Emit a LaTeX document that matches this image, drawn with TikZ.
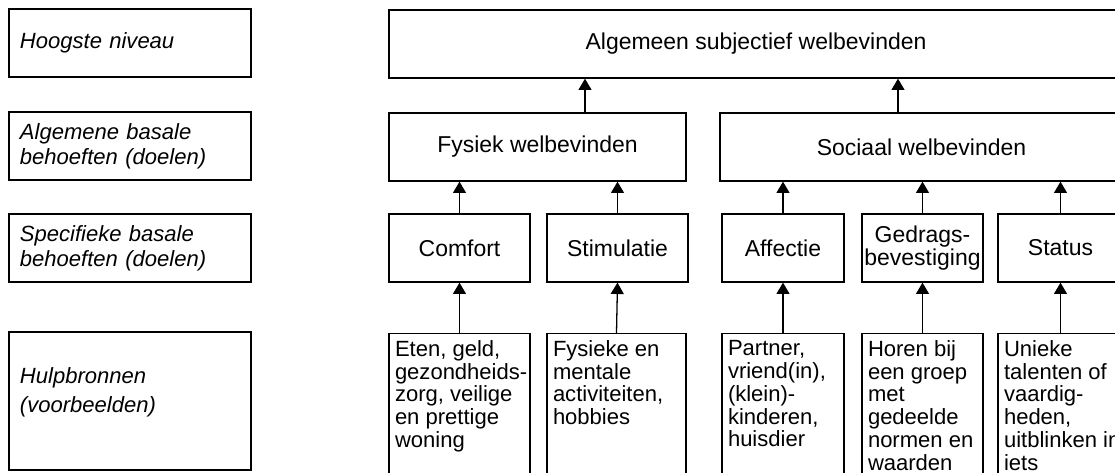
\documentclass[tikz,border=0pt]{standalone}
\usepackage{fontspec}
\setmainfont{Liberation Sans}
\usetikzlibrary{arrows.meta,positioning,calc}

\begin{document}
\begin{tikzpicture}[x=0.03cm, y=-0.03cm, line width=1.1pt, >={Triangle[width=0.39cm,length=0.34cm]},
  font=\fontsize{18.8}{21}\selectfont]
\tikzstyle{niveau}=[draw, minimum width=7.26cm, minimum height=2.04cm, inner sep=0pt,
  text width=6.6cm, align=left, font=\fontsize{18.8}{21.5}\selectfont\itshape]
\tikzstyle{doel}=[draw, minimum height=2.04cm, inner sep=0pt, align=center,
  font=\fontsize{19.6}{21}\selectfont]
\tikzstyle{bron}=[draw, minimum height=4.35cm, anchor=north, inner sep=0pt]
\tikzstyle{brontekst}=[anchor=north west, align=left, inner sep=0pt, xshift=0.18cm, yshift=-0.2cm,
  font=\fontsize{18.8}{19.5}\selectfont]
\useasboundingbox (0,0) rectangle (1115,472);
\clip (0,0) rectangle (1115,472);

% niveaus links
\node[niveau] (n1) at (130,43)  {Hoogste niveau};
\node[niveau] (n2) at (130,146) {Algemene basale\\behoeften (doelen)};
\node[niveau] (n3) at (130,248) {Specifieke basale\\behoeften (doelen)};
\node[niveau, minimum height=4.14cm, label={[text width=6.6cm, align=left, inner sep=0pt, yshift=0.27cm,
  font=\fontsize{18.8}{25}\selectfont\itshape]center:Hulpbronnen\\(voorbeelden)}] (n4) at (130,401) {};

% doelen
\node[doel, minimum width=22.02cm] (top) at (756,44)   {Algemeen subjectief welbevinden};
\node[doel, minimum width=8.91cm]  (fys) at (537.5,147) {Fysiek welbevinden};
\node[doel, minimum width=12.09cm] (soc) at (921.5,147) {Sociaal welbevinden};

\node[doel, minimum width=4.23cm] (comf) at (459.5,248) {Comfort};
\node[doel, minimum width=4.23cm] (stim) at (617.5,248) {Stimulatie};
\node[doel, minimum width=3.66cm] (aff)  at (783,248)   {Affectie};
\node[doel, minimum width=3.63cm] (gedr) at (922.5,248) {Gedrags-\\[-2pt]bevestiging};
\node[doel, minimum width=3.75cm] (stat) at (1060.5,248) {Status};

% hulpbronnen
\node[bron, minimum width=4.23cm, label={[brontekst]north west:Eten, geld,\\gezondheids-\\zorg, veilige\\en prettige\\woning}] (bcomf) at (459.5,333) {};
\node[bron, minimum width=4.17cm, label={[brontekst]north west:Fysieke en\\mentale\\activiteiten,\\hobbies}] (bstim) at (616.5,333) {};
\node[bron, minimum width=3.66cm, label={[brontekst]north west:Partner,\\vriend(in),\\(klein)-\\kinderen,\\huisdier}] (baff) at (783,333) {};
\node[bron, minimum width=3.63cm, label={[brontekst]north west:Horen bij\\een groep\\met\\gedeelde\\normen en\\waarden}] (bgedr) at (922.5,333) {};
\node[bron, minimum width=3.75cm, label={[brontekst]north west:Unieke\\talenten of\\vaardig-\\heden,\\uitblinken in\\iets}] (bstat) at (1060.5,333) {};

% pijlen
\foreach \b/\d in {bcomf/comf, bstim/stim, baff/aff, bgedr/gedr, bstat/stat}
  \draw[->] (\b.north) -- (\d.south);
\foreach \d/\a in {comf/fys, stim/fys, aff/soc, gedr/soc, stat/soc}
  \draw[->] (\d.north) -- (\d.north |- \a.south);
\coordinate (fw) at ($(fys.north)+(47.5,0)$);
\coordinate (sw) at ($(soc.north)+(-23.5,0)$);
\draw[->] (fw) -- (fw |- top.south);
\draw[->] (sw) -- (sw |- top.south);
\end{tikzpicture}
\end{document}
